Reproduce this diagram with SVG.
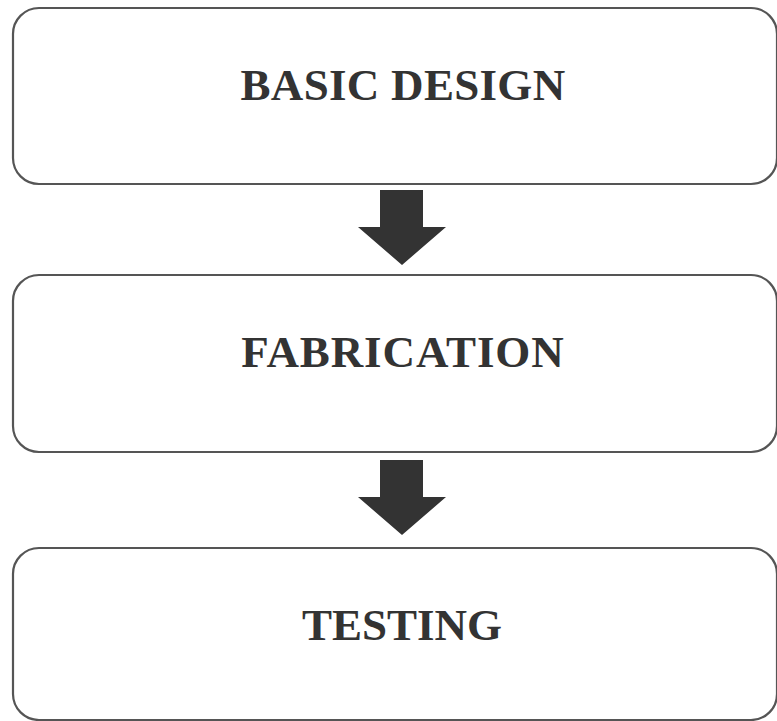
<svg xmlns="http://www.w3.org/2000/svg" width="777" height="721" viewBox="0 0 777 721">
  <style>
    .box { fill: #ffffff; stroke: #555555; stroke-width: 2.2; }
    .label { font-family: "Liberation Serif", "Times New Roman", serif; font-weight: bold; font-size: 45px; fill: #333333; text-anchor: middle; }
    .arrow { fill: #333333; }
  </style>
  <rect width="777" height="721" fill="#ffffff"/>
  <g id="basic-design">
    <rect class="box" x="13" y="8" width="764" height="176" rx="26" ry="26"/>
    <text class="label" x="403" y="100" letter-spacing="0.3">BASIC DESIGN</text>
  </g>
  <g id="fabrication">
    <rect class="box" x="13" y="275" width="764" height="177" rx="26" ry="26"/>
    <text class="label" x="403" y="367" letter-spacing="0.9">FABRICATION</text>
  </g>
  <g id="testing">
    <rect class="box" x="13" y="548" width="764" height="172" rx="26" ry="26"/>
    <text class="label" x="402" y="640">TESTING</text>
  </g>
  <g id="connectors">
    <polygon class="arrow" points="380,190 423,190 423,227 446,227 402,265 358,227 380,227"/>
    <polygon class="arrow" points="380,460 423,460 423,497 446,497 402,535 358,497 380,497"/>
  </g>
</svg>
